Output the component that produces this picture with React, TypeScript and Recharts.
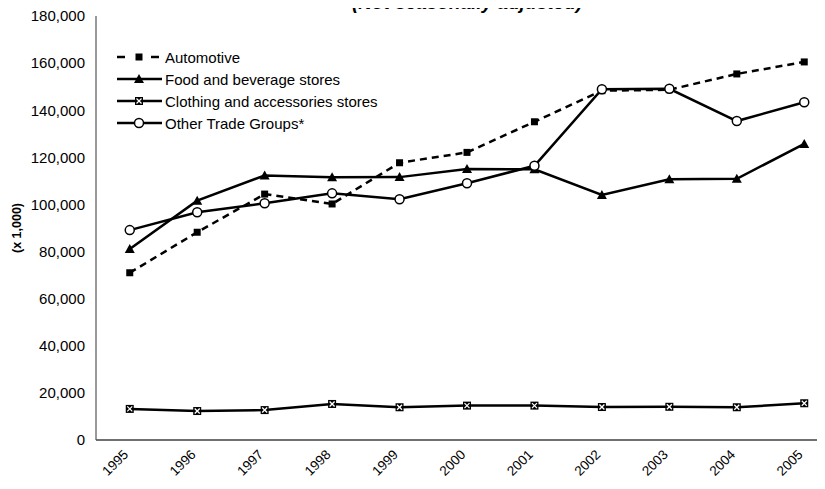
import { LineChart, Line, XAxis, YAxis, Legend } from 'recharts'

const years = ['1995', '1996', '1997', '1998', '1999', '2000', '2001', '2002', '2003', '2004', '2005']
const automotive = [71000, 88200, 104400, 100200, 117700, 122100, 135100, 148300, 148700, 155400, 160500]
const food = [81100, 101600, 112300, 111500, 111600, 115000, 114900, 104000, 110700, 110900, 125700]
const clothing = [13200, 12300, 12700, 15300, 13900, 14600, 14600, 14000, 14100, 13900, 15600]
const other = [89100, 96700, 100500, 104700, 102200, 109000, 116400, 148900, 149100, 135400, 143400]
const yTicks = [0, 20000, 40000, 60000, 80000, 100000, 120000, 140000, 160000, 180000]

const data = years.map((year, i) => ({
  year,
  automotive: automotive[i],
  food: food[i],
  clothing: clothing[i],
  other: other[i],
}))

const FONT = 'Arial, "Liberation Sans", sans-serif'

function Square({ cx, cy }: any) {
  return <rect x={cx - 3.5} y={cy - 3.5} width={7} height={7} fill="#000" />
}

function Triangle({ cx, cy }: any) {
  return <polygon points={`${cx},${cy - 5} ${cx + 5},${cy + 4} ${cx - 5},${cy + 4}`} fill="#000" />
}

function XBox({ cx, cy }: any) {
  return (
    <g>
      <rect x={cx - 4} y={cy - 4} width={8} height={8} fill="#000" />
      <line x1={cx - 2.5} y1={cy - 2.5} x2={cx + 2.5} y2={cy + 2.5} stroke="#fff" strokeWidth={1.3} />
      <line x1={cx - 2.5} y1={cy + 2.5} x2={cx + 2.5} y2={cy - 2.5} stroke="#fff" strokeWidth={1.3} />
    </g>
  )
}

function Ring({ cx, cy }: any) {
  return <circle cx={cx} cy={cy} r={4.5} fill="#fff" stroke="#000" strokeWidth={1.5} />
}

const series = [
  { key: 'automotive', name: 'Automotive', dash: '7 5', Marker: Square },
  { key: 'food', name: 'Food and beverage stores', dash: undefined, Marker: Triangle },
  { key: 'clothing', name: 'Clothing and accessories stores', dash: undefined, Marker: XBox },
  { key: 'other', name: 'Other Trade Groups*', dash: undefined, Marker: Ring },
]

function LegendBox() {
  return (
    <div style={{ fontFamily: FONT, fontSize: 15, color: '#000' }}>
      {series.map((s) => (
        <div key={s.key} style={{ display: 'flex', alignItems: 'center', height: 22 }}>
          <svg width={50} height={22}>
            {s.dash ? (
              <g>
                <line x1={2} y1={11} x2={10} y2={11} stroke="#000" strokeWidth={2.5} />
                <line x1={36} y1={11} x2={44} y2={11} stroke="#000" strokeWidth={2.5} />
              </g>
            ) : (
              <line x1={2} y1={11} x2={47} y2={11} stroke="#000" strokeWidth={2.5} />
            )}
            <s.Marker cx={24} cy={11} />
          </svg>
          <span>{s.name}</span>
        </div>
      ))}
    </div>
  )
}

function XTick({ x, y, payload }: any) {
  return (
    <g transform={`translate(${x - 4},${y + 12}) rotate(-45)`}>
      <text textAnchor="end" dy="0.35em" fontSize={13.5} fill="#000" fontFamily={FONT}>
        {payload.value}
      </text>
    </g>
  )
}

function YLabel() {
  return (
    <text
      x={17}
      y={228}
      transform="rotate(-90 17 228)"
      textAnchor="middle"
      dominantBaseline="central"
      fontSize={12.5}
      fontWeight="bold"
      fontFamily={FONT}
      fill="#000"
    >
      (x 1,000)
    </text>
  )
}

export default function App() {
  return (
    <div
      style={{
        position: 'relative',
        width: 825,
        height: 489,
        overflow: 'hidden',
        margin: '-8px 0 0 -8px',
        background: '#fff',
        fontFamily: FONT,
      }}
    >
      <div
        style={{
          position: 'absolute',
          left: 0,
          width: 934,
          top: -7,
          textAlign: 'center',
          fontSize: 19,
          lineHeight: '19px',
          fontWeight: 'bold',
          fontStyle: 'italic',
          color: '#000',
        }}
      >
        (Not seasonally adjusted)
      </div>
      <LineChart width={860} height={489} data={data} margin={{ top: 16, right: 22, bottom: 0, left: 0 }}>
        <XAxis
          dataKey="year"
          height={49}
          interval={0}
          padding={{ left: 33.75, right: 33.75 }}
          axisLine={{ stroke: '#404040', strokeWidth: 1.5 }}
          tickLine={false}
          tickSize={0}
          tickMargin={0}
          tick={<XTick />}
        />
        <YAxis
          width={96}
          domain={[0, 180000]}
          ticks={yTicks}
          interval={0}
          tickFormatter={(v: number) => v.toLocaleString('en-US')}
          axisLine={{ stroke: '#555', strokeWidth: 1.2 }}
          tickLine={false}
          tickSize={0}
          tickMargin={11}
          tick={{ fontSize: 15, fill: '#000', fontFamily: FONT }}
          label={<YLabel />}
        />
        <Legend
          layout="vertical"
          align="center"
          verticalAlign="middle"
          wrapperStyle={{ left: 115, top: 46, width: 320 }}
          content={() => <LegendBox />}
        />
        {series.map((s) => (
          <Line
            key={s.key}
            dataKey={s.key}
            name={s.name}
            type="linear"
            stroke="#000"
            strokeWidth={2.5}
            strokeDasharray={s.dash}
            isAnimationActive={false}
            dot={(p: any) => <s.Marker key={`${s.key}-${p.index}`} cx={p.cx} cy={p.cy} />}
            activeDot={false}
          />
        ))}
      </LineChart>
    </div>
  )
}
